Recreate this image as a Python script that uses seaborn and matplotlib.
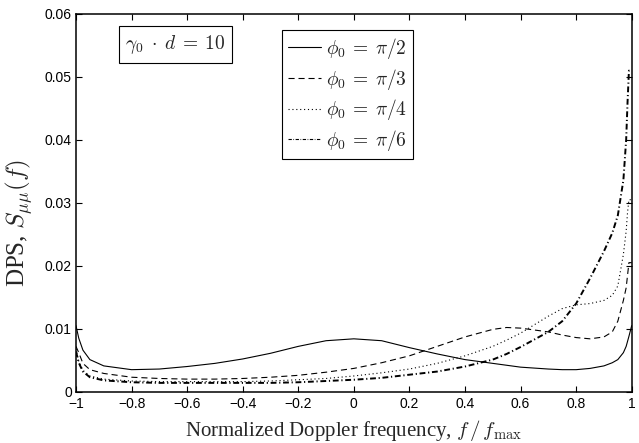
import numpy as np
import pandas as pd
import matplotlib
matplotlib.use("Agg")
import matplotlib.pyplot as plt
import seaborn as sns

# normalized Doppler frequency f/fmax
f_norm = [-1, -0.99, -0.975, -0.95, -0.9, -0.8, -0.7, -0.6, -0.5, -0.4, -0.3,
          -0.2, -0.1, 0, 0.1, 0.2, 0.3, 0.4, 0.5, 0.55, 0.6, 0.7, 0.75, 0.8,
          0.85, 0.9, 0.93, 0.95, 0.97, 0.98, 0.985, 0.99, 1]

# DPS values, one list per angle of motion
dps_pi2 = [0.0105, 0.0085, 0.0066, 0.0051, 0.0041, 0.0035, 0.0036, 0.0040, 0.0045,
           0.0052, 0.0061, 0.0072, 0.0081, 0.0084, 0.0081, 0.0070, 0.0060, 0.0051,
           0.0045, 0.0042, 0.0039, 0.0036, 0.0035, 0.0035, 0.0037, 0.0041, 0.0046,
           0.0051, 0.0062, 0.0072, 0.0080, 0.0088, 0.0105]
dps_pi3 = [0.0072, 0.0062, 0.0045, 0.0035, 0.0029, 0.0023, 0.0021, 0.0020, 0.0020,
           0.0021, 0.0023, 0.0026, 0.0031, 0.0037, 0.0046, 0.0057, 0.0072, 0.0087,
           0.0099, 0.0102, 0.0101, 0.0095, 0.0090, 0.0086, 0.0084, 0.0087, 0.0095,
           0.0112, 0.0145, 0.0165, 0.0185, 0.0205, 0.0205]
dps_pi4 = [0.0068, 0.0048, 0.0034, 0.0025, 0.0020, 0.0017, 0.0016, 0.0016, 0.0016,
           0.0016, 0.0017, 0.0019, 0.0021, 0.0025, 0.0030, 0.0036, 0.0045, 0.0057,
           0.0072, 0.0082, 0.0093, 0.0120, 0.0132, 0.0138, 0.0140, 0.0145, 0.0153,
           0.0168, 0.0218, 0.0255, 0.0285, 0.0305, 0.0305]
dps_pi6 = [0.0064, 0.0046, 0.0032, 0.0023, 0.0018, 0.0015, 0.0014, 0.0014, 0.0014,
           0.0014, 0.0014, 0.0015, 0.0017, 0.0019, 0.0022, 0.0027, 0.0032, 0.0040,
           0.0051, 0.0060, 0.0071, 0.0095, 0.0112, 0.0140, 0.0180, 0.0223, 0.0252,
           0.0280, 0.0336, 0.0400, 0.0460, 0.0510, 0.0510]

labels = [r"$\phi_0 \:=\: \pi/2$", r"$\phi_0 \:=\: \pi/3$",
          r"$\phi_0 \:=\: \pi/4$", r"$\phi_0 \:=\: \pi/6$"]
x_ticks = [-1, -0.8, -0.6, -0.4, -0.2, 0, 0.2, 0.4, 0.6, 0.8, 1]
x_ticklabels = ["\u22121", "\u22120.8", "\u22120.6", "\u22120.4", "\u22120.2", "0",
                "0.2", "0.4", "0.6", "0.8", "1"]
y_ticks = [0, 0.01, 0.02, 0.03, 0.04, 0.05, 0.06]
y_ticklabels = ["0", "0.01", "0.02", "0.03", "0.04", "0.05", "0.06"]

sns.set_style("ticks")
plt.rcParams["font.family"] = ["Liberation Sans", "DejaVu Sans"]
plt.rcParams["mathtext.fontset"] = "cm"

fig = plt.figure(figsize=(6.39, 4.43), dpi=100)
ax = fig.add_axes([0.1189, 0.1158, 0.8697, 0.8526])

styles = [
    dict(linestyle="-", linewidth=0.8),
    dict(linestyle=(0, (5.5, 3.5)), linewidth=0.8),
    dict(linestyle=(0, (1, 2.5)), linewidth=0.8),
    dict(linestyle=(0, (3, 1.4, 0.6, 1.4)), linewidth=1.4),
]
for vals, lab, st in zip([dps_pi2, dps_pi3, dps_pi4, dps_pi6], labels, styles):
    df = pd.DataFrame({"f": f_norm, "S": vals})
    sns.lineplot(data=df, x="f", y="S", ax=ax, color="k", label=lab, **st)

ax.set_xlim(-1, 1)
ax.set_ylim(0, 0.06)
ax.set_xticks(x_ticks)
ax.set_xticklabels(x_ticklabels)
ax.set_yticks(y_ticks)
ax.set_yticklabels(y_ticklabels)
ax.tick_params(direction="in", top=True, right=True, length=4, width=0.8,
               labelsize=10, colors="k")
ax.tick_params(axis="x", pad=4)
ax.tick_params(axis="y", pad=3)
for sp in ax.spines.values():
    sp.set_visible(True)
    sp.set_linewidth(1.1)
    sp.set_color("k")

ax.set_xlabel(r"Normalized Doppler frequency, $f\,/\,f_{\mathrm{max}}$",
              family="Liberation Serif", fontsize=15, labelpad=5)
ax.set_ylabel(r"DPS, $S_{\mu\mu}(f)$", family="Liberation Serif", fontsize=18)
ax.yaxis.set_label_coords(-0.074, 0.445)

leg = ax.legend(loc="upper left", bbox_to_anchor=(0.371, 0.958), borderaxespad=0,
                fontsize=14, frameon=True, fancybox=False, framealpha=1,
                edgecolor="k", handlelength=1.7, handletextpad=0.25,
                labelspacing=0.3, borderpad=0.3)
leg.get_frame().set_linewidth(0.8)
for h in leg.legend_handles:
    h.set_linewidth(0.8)

ax.text(0.179, 0.919, r"$\gamma_0 \;\cdot\; d \:=\: 10$", transform=ax.transAxes,
        ha="center", va="center", fontsize=14,
        bbox=dict(boxstyle="square,pad=0.35", fc="white", ec="k", lw=0.8))

fig.savefig("out.png", dpi=100)
